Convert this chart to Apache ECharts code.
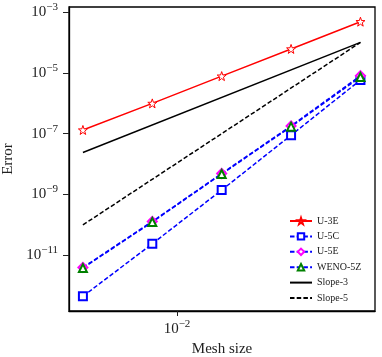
<!DOCTYPE html>
<html>
<head>
<meta charset="utf-8">
<script src="https://cdn.jsdelivr.net/npm/echarts@6/dist/echarts.min.js"></script>
<style>
  html, body { margin: 0; padding: 0; background: #fff; }
  #main { width: 382px; height: 357px; }
</style>
</head>
<body>
<div id="main"></div>
<script>
var meshSize = [0.00390625, 0.0078125, 0.015625, 0.03125, 0.0625];
var errU3E = [1.32e-7, 9.9e-7, 7.8e-6, 6.1e-5, 4.8e-4];
var errU5C = [4.5e-13, 2.4e-11, 1.4e-9, 8.9e-8, 5.8e-6];
var errU5E = [4.0e-12, 1.3e-10, 4.9e-9, 1.8e-7, 8.0e-6];
var errWENO = [3.8e-12, 1.25e-10, 4.7e-9, 1.7e-7, 7.3e-6];
var slopeX = [0.00390625, 0.0625];
var slope3 = [2.4e-8, 1.0e-4];
var slope5 = [1.0e-10, 1.0e-4];
var yTicks = [1e-11, 1e-9, 1e-7, 1e-5, 1e-3];
var xTicks = [1e-2];

var serif = '"Liberation Serif", "DejaVu Serif", serif';

function pairs(xs, ys) {
    return xs.map(function (x, i) { return [x, ys[i]]; });
}

// 10^k written with a raised exponent
function powLabel(v) {
    var e = Math.round(Math.log10(v));
    return '{b|10}{e|' + (e < 0 ? '\u2212' : '') + Math.abs(e) + '}';
}

var labelRich = {
    b: { fontFamily: serif, fontSize: 15, color: '#222' },
    e: { fontFamily: serif, fontSize: 11, color: '#222', padding: [0, 0, 10, 0] }
};

var starPath = 'path://M0,-10 L2.35,-3.24 L9.51,-3.09 L3.8,1.24 L5.88,8.09 L0,4 L-5.88,8.09 L-3.8,1.24 L-9.51,-3.09 L-2.35,-3.24 Z';

var chartDom = document.getElementById('main');
var myChart = echarts.init(chartDom);
var option;

option = {
    animation: false,
    grid: {
        left: 69,
        right: 7,
        top: 7,
        bottom: 46,
        outerBoundsMode: 'none',
        containLabel: false,
        show: true,
        borderColor: '#000',
        borderWidth: 1.3
    },
    legend: {
        orient: 'vertical',
        left: 284,
        top: 211,
        itemWidth: 22,
        itemHeight: 8,
        itemGap: 5.4,
        textStyle: { fontFamily: serif, fontSize: 10, color: '#222' },
        data: ['U-3E', 'U-5C', 'U-5E', 'WENO-5Z',
            { name: 'Slope-3', itemStyle: { opacity: 0 } },
            { name: 'Slope-5', itemStyle: { opacity: 0 } }]
    },
    xAxis: {
        type: 'log',
        logBase: 10,
        min: Math.pow(10, -2.4686),
        max: Math.pow(10, -1.141),
        name: 'Mesh size',
        nameLocation: 'middle',
        nameGap: 31,
        nameTextStyle: { fontFamily: serif, fontSize: 15, color: '#222' },
        axisLine: { lineStyle: { color: '#000', width: 1.3 } },
        axisTick: { customValues: xTicks, length: 5, lineStyle: { color: '#222' } },
        axisLabel: { customValues: xTicks, formatter: powLabel, rich: labelRich, margin: 8 },
        splitLine: { show: false },
        minorTick: { show: false }
    },
    yAxis: {
        type: 'log',
        logBase: 10,
        min: Math.pow(10, -12.83),
        max: Math.pow(10, -2.836),
        name: 'Error',
        nameLocation: 'middle',
        nameGap: 53,
        nameTextStyle: { fontFamily: serif, fontSize: 15, color: '#222' },
        axisLine: { lineStyle: { color: '#000', width: 1.3 } },
        axisTick: { customValues: yTicks, length: 6, lineStyle: { color: '#222' } },
        axisLabel: { customValues: yTicks, formatter: powLabel, rich: labelRich, margin: 11 },
        splitLine: { show: false }
    },
    series: [{
        name: 'U-3E',
        type: 'line',
        data: pairs(meshSize, errU3E),
        symbol: starPath,
        symbolSize: 9,
        lineStyle: { color: '#ff0000', width: 1.5 },
        itemStyle: { color: '#ffffff', borderColor: '#ff0000', borderWidth: 1 }
    },
    {
        name: 'U-5C',
        type: 'line',
        data: pairs(meshSize, errU5C),
        symbol: 'emptyRect',
        symbolSize: 8,
        lineStyle: { color: '#0000ff', width: 1.5, type: [4.5, 2.2] },
        itemStyle: { color: '#0000ff', borderWidth: 1 }
    },
    {
        name: 'U-5E',
        type: 'line',
        data: pairs(meshSize, errU5E),
        symbol: 'emptyDiamond',
        symbolSize: 9,
        lineStyle: { color: '#0000ff', width: 1.5, type: [4.5, 2.2] },
        itemStyle: { color: '#ff00ff', borderWidth: 1 }
    },
    {
        name: 'WENO-5Z',
        type: 'line',
        data: pairs(meshSize, errWENO),
        symbol: 'emptyTriangle',
        symbolSize: 8,
        lineStyle: { color: '#0000ff', width: 1.5, type: [4.5, 2.2] },
        itemStyle: { color: '#008000', borderWidth: 1 }
    },
    {
        name: 'Slope-3',
        type: 'line',
        data: pairs(slopeX, slope3),
        symbol: 'none',
        lineStyle: { color: '#000', width: 1.5 },
        itemStyle: { color: '#000' }
    },
    {
        name: 'Slope-5',
        type: 'line',
        data: pairs(slopeX, slope5),
        symbol: 'none',
        lineStyle: { color: '#000', width: 1.5, type: [4.5, 2.2] },
        itemStyle: { color: '#000' }
    }]
};

option && myChart.setOption(option);
</script>
</body>
</html>
